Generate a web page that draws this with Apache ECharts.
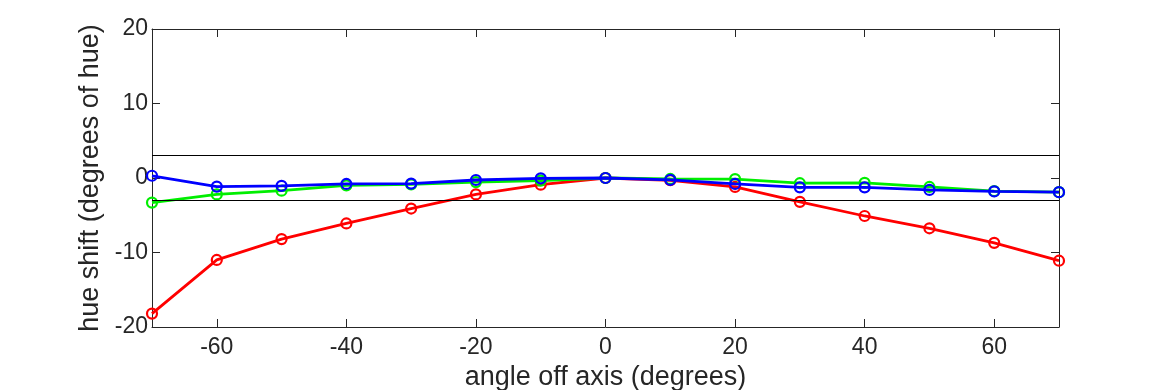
<!DOCTYPE html>
<html>
<head>
<meta charset="utf-8">
<script src="https://cdn.jsdelivr.net/npm/echarts@6/dist/echarts.min.js"></script>
<style>html,body{margin:0;padding:0;background:#fff}#c{width:1170px;height:390px}</style>
</head>
<body>
<div id="c"></div>
<script>
const angles = [-70,-60,-50,-40,-30,-20,-10,0,10,20,30,40,50,60,70];
const redShift   = [-18.2,-11.0,-8.2,-6.1,-4.1,-2.2,-0.9,0,-0.3,-1.2,-3.2,-5.1,-6.75,-8.7,-11.1];
const greenShift = [-3.3,-2.2,-1.7,-1.0,-0.85,-0.55,-0.35,0,-0.13,-0.15,-0.7,-0.65,-1.2,-1.75,-1.9];
const blueShift  = [0.3,-1.15,-1.05,-0.8,-0.75,-0.27,-0.05,0,-0.25,-0.8,-1.25,-1.25,-1.6,-1.8,-1.9];
const thresholds = [3, -3];
const xTicks = [-60,-40,-20,0,20,40,60];
const yTicks = [-20,-10,0,10,20];

const font = '"Liberation Sans", Arial, Helvetica, sans-serif';
const axisColor = '#262626';
const pair = arr => angles.map((a,i)=>[a, arr[i]]);
function mk(name, color, arr, z){
  return {
    name, type:'line', data: pair(arr), z,
    symbol:'circle', symbolSize:10, showSymbol:true,
    lineStyle:{color, width:2.8},
    itemStyle:{color:'rgba(255,255,255,0)', borderColor:color, borderWidth:2.2},
    emphasis:{disabled:true}, animation:false
  };
}
const chart = echarts.init(document.getElementById('c'), null, {renderer:'canvas'});
chart.setOption({
  animation:false,
  backgroundColor:'#fff',
  grid:{left:152, right:111, top:29, bottom:63, containLabel:false, outerBoundsMode:'none'},
  xAxis:[{
    type:'value', min:-70, max:70,
    name:'angle off axis (degrees)', nameLocation:'middle', nameGap:37,
    nameTextStyle:{fontFamily:font, fontSize:27, color:'#262626'},
    axisLine:{show:true, onZero:false, lineStyle:{color:axisColor, width:1}},
    axisTick:{show:true, inside:true, length:8, customValues:xTicks, lineStyle:{color:axisColor}},
    axisLabel:{customValues:xTicks, fontFamily:font, fontSize:23, color:'#262626', margin:9},
    splitLine:{show:false}
  },{
    type:'value', min:-70, max:70, position:'top',
    axisLine:{show:true, onZero:false, lineStyle:{color:axisColor, width:1}},
    axisTick:{show:true, inside:true, length:8, customValues:xTicks, lineStyle:{color:axisColor}},
    axisLabel:{show:false}, splitLine:{show:false}
  }],
  yAxis:[{
    type:'value', min:-20, max:20, interval:10,
    name:'hue shift (degrees of hue)', nameLocation:'middle', nameGap:37,
    nameTextStyle:{fontFamily:font, fontSize:27, color:'#262626'},
    axisLine:{show:true, onZero:false, lineStyle:{color:axisColor, width:1}},
    axisTick:{show:true, inside:true, length:8, customValues:yTicks, lineStyle:{color:axisColor}},
    axisLabel:{customValues:yTicks, fontFamily:font, fontSize:23, color:'#262626', margin:4},
    splitLine:{show:false}
  },{
    type:'value', min:-20, max:20, interval:10, position:'right',
    axisLine:{show:true, onZero:false, lineStyle:{color:axisColor, width:1}},
    axisTick:{show:true, inside:true, length:8, customValues:yTicks, lineStyle:{color:axisColor}},
    axisLabel:{show:false}, splitLine:{show:false}
  }],
  series:[
    Object.assign(mk('red','#ff0000',redShift,3),{
      markLine:{silent:true, symbol:'none', label:{show:false},
        lineStyle:{color:'#000', width:1.2, type:'solid'},
        data: thresholds.map(v=>({yAxis:v}))}
    }),
    mk('green','#00ee00',greenShift,4),
    mk('blue','#0000ff',blueShift,5)
  ]
});
</script>
</body>
</html>
